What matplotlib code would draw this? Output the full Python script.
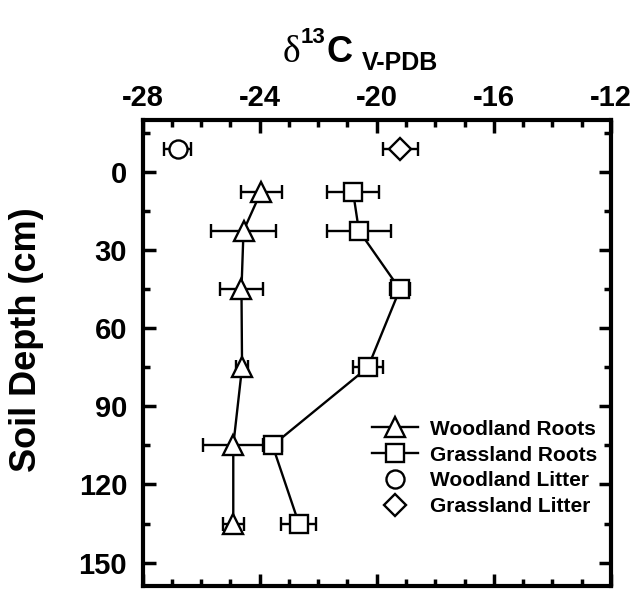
import matplotlib
matplotlib.use("Agg")
import matplotlib.pyplot as plt

# ---- data ----
depth_roots = [7.5, 22.5, 45, 75, 105, 135]
wood_roots = [-23.95, -24.55, -24.62, -24.6, -24.9, -24.9]
wood_roots_err = [0.7, 1.1, 0.72, 0.2, 1.05, 0.35]
grass_roots = [-20.81, -20.61, -19.21, -20.3, -23.56, -22.66]
grass_roots_err = [0.9, 1.09, 0.33, 0.52, 0.33, 0.6]
depth_litter = [-9]
wood_litter = [-26.8]
wood_litter_err = [0.45]
grass_litter = [-19.2]
grass_litter_err = [0.6]

xticks = [-28, -24, -20, -16, -12]
yticks = [0, 30, 60, 90, 120, 150]

plt.rcParams['font.family'] = ['Liberation Sans', 'DejaVu Sans']
plt.rcParams['font.weight'] = 'bold'
plt.rcParams['axes.unicode_minus'] = False

W, H = 635, 590
fig = plt.figure(figsize=(W / 100, H / 100), dpi=100)
left, right, top, bottom = 142.5, 611, 120, 586
ax = fig.add_axes([left / W, 1 - bottom / H, (right - left) / W, (bottom - top) / H])

ax.set_xlim(-28, -12)
ax.set_ylim(159, -20)

lw = 1.7
mew = 1.7
ebkw = dict(fmt='none', ecolor='black', elinewidth=lw, capsize=5, capthick=lw, zorder=2)

ax.errorbar(wood_roots, depth_roots, xerr=wood_roots_err, **ebkw)
ax.errorbar(grass_roots, depth_roots, xerr=grass_roots_err, **ebkw)
ax.errorbar(wood_litter, depth_litter, xerr=wood_litter_err, **ebkw)
ax.errorbar(grass_litter, depth_litter, xerr=grass_litter_err, **ebkw)

ax.plot(wood_roots, depth_roots, '-^', color='black', lw=lw, ms=15, mfc='white',
        mec='black', mew=mew, zorder=3, label='Woodland Roots')
ax.plot(grass_roots, depth_roots, '-s', color='black', lw=lw, ms=13, mfc='white',
        mec='black', mew=mew, zorder=3, label='Grassland Roots')
ax.plot(wood_litter, depth_litter, 'o', color='black', ms=13, mfc='white',
        mec='black', mew=mew, zorder=3, label='Woodland Litter')
ax.plot(grass_litter, depth_litter, 'D', color='black', ms=11.5, mfc='white',
        mec='black', mew=mew, zorder=3, label='Grassland Litter')

leg = ax.legend(loc='upper left', bbox_to_anchor=(0.49, 0.357), frameon=False,
                prop={'family': 'Liberation Sans', 'weight': 'bold', 'size': 15},
                handlelength=2.2, handletextpad=0.6, labelspacing=0.33,
                borderpad=0, borderaxespad=0)

for s in ax.spines.values():
    s.set_linewidth(3)

ax.set_xticks(xticks)
ax.set_yticks(yticks)
ax.set_xticks([v for v in range(-28, -11) if v not in xticks], minor=True)
ax.set_yticks([-15, 15, 45, 75, 105, 135], minor=True)
ax.tick_params(which='both', direction='in', top=True, bottom=True, left=True, right=True,
               labeltop=True, labelbottom=False, labelleft=True, labelright=False)
ax.tick_params(which='major', length=9, width=2.5)
ax.tick_params(which='minor', length=5, width=2.5)
ax.tick_params(axis='x', which='major', pad=6, labelsize=21)
ax.tick_params(axis='y', which='major', pad=11, labelsize=21)
for lab in ax.get_xticklabels() + ax.get_yticklabels():
    lab.set_fontweight('bold')

ax.set_ylabel('Soil Depth (cm)', fontsize=26, fontweight='bold')
ax.yaxis.set_label_coords((44 - left) / (right - left), 1 - (340 - top) / (bottom - top))

# title pieces: delta^13 C subscript V-PDB
def fx(px):
    return px / W

def fy(py):
    return 1 - py / H

fig.text(fx(283), fy(62), '\u03b4', family='Liberation Serif', fontsize=27,
         fontweight='normal', va='baseline', ha='left')
fig.text(fx(301), fy(43), '13', fontsize=16, fontweight='bold', va='baseline', ha='left')
fig.text(fx(327), fy(62), 'C', fontsize=26, fontweight='bold', va='baseline', ha='left')
fig.text(fx(362), fy(70), 'V-PDB', fontsize=18, fontweight='bold', va='baseline', ha='left')

fig.savefig('out.png', dpi=100)
